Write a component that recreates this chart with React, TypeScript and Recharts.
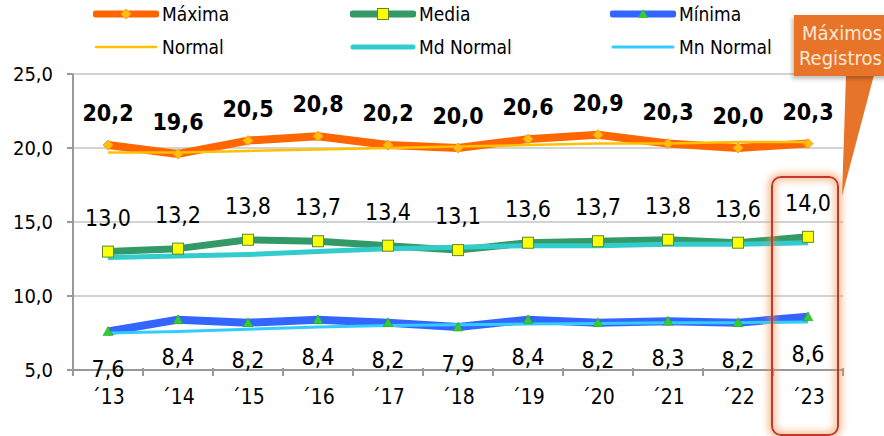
import React from 'react';
import { LineChart, Line, XAxis, YAxis, CartesianGrid, LabelList, Legend } from 'recharts';

const years = ['´13', '´14', '´15', '´16', '´17', '´18', '´19', '´20', '´21', '´22', '´23'];
const maxima = [20.2, 19.6, 20.5, 20.8, 20.2, 20.0, 20.6, 20.9, 20.3, 20.0, 20.3];
const normal = [19.7, 19.7, 19.8, 19.9, 20.0, 20.1, 20.2, 20.3, 20.3, 20.4, 20.4];
const media = [13.0, 13.2, 13.8, 13.7, 13.4, 13.1, 13.6, 13.7, 13.8, 13.6, 14.0];
const mdNormal = [12.6, 12.7, 12.8, 13.0, 13.2, 13.3, 13.4, 13.4, 13.5, 13.5, 13.6];
const minima = [7.6, 8.4, 8.2, 8.4, 8.2, 7.9, 8.4, 8.2, 8.3, 8.2, 8.6];
const mnNormal = [7.5, 7.6, 7.75, 7.9, 8.0, 8.05, 8.1, 8.15, 8.2, 8.2, 8.25];
const yTicks = [5, 10, 15, 20, 25];

const data = years.map((year, i) => ({
  year,
  maxima: maxima[i],
  normal: normal[i],
  media: media[i],
  mdNormal: mdNormal[i],
  minima: minima[i],
  mnNormal: mnNormal[i],
}));

const FONT = '"DejaVu Sans Condensed", "DejaVu Sans", sans-serif';
const fmt = (v: number) => v.toFixed(1).replace('.', ',');

const C = {
  maxima: '#FF6600',
  maxMarker: '#FFC000',
  normal: '#FFC000',
  media: '#339966',
  medMarker: '#FFFF00',
  mdNormal: '#33CCCC',
  minima: '#3366FF',
  minMarker: '#33CC33',
  mnNormal: '#33CCFF',
};

const Diamond = (props: any) => {
  const { cx, cy, index } = props;
  if (cx == null || cy == null) return <g key={index} />;
  const r = 5;
  return (
    <polygon
      key={index}
      points={`${cx},${cy - r} ${cx + r},${cy} ${cx},${cy + r} ${cx - r},${cy}`}
      fill={C.maxMarker}
      stroke="#FF9933"
      strokeWidth={1}
    />
  );
};

const Square = (props: any) => {
  const { cx, cy, index } = props;
  if (cx == null || cy == null) return <g key={index} />;
  const r = 5.5;
  return (
    <rect key={index} x={cx - r} y={cy - r} width={2 * r} height={2 * r} fill={C.medMarker} stroke="#5A8A2A" strokeWidth={1} />
  );
};

const Triangle = (props: any) => {
  const { cx, cy, index } = props;
  if (cx == null || cy == null) return <g key={index} />;
  const r = 5;
  return (
    <polygon
      key={index}
      points={`${cx},${cy - r} ${cx + r},${cy + r * 0.8} ${cx - r},${cy + r * 0.8}`}
      fill={C.minMarker}
      stroke="#2A9A2A"
      strokeWidth={0.5}
    />
  );
};

const makeLabel = (dy: number, bold: boolean) => (props: any) => {
  const { x, y, value, index } = props;
  return (
    <text
      key={index}
      x={x}
      y={y + dy}
      textAnchor="middle"
      dominantBaseline="central"
      fontFamily={FONT}
      fontSize={23}
      fontWeight={bold ? 'bold' : 'normal'}
      fill="#000"
    >
      {fmt(value)}
    </text>
  );
};

const XTick = (props: any) => {
  const { x, y, payload, index } = props;
  const half = 35;
  return (
    <g>
      {index === 0 && <line x1={x - half} x2={x - half} y1={y - 2} y2={y + 6} stroke="#999" strokeWidth={2} />}
      <line x1={x + half} x2={x + half} y1={y - 2} y2={y + 6} stroke="#999" strokeWidth={2} />
      <text x={x} y={y + 27} textAnchor="middle" dominantBaseline="central" fontFamily={FONT} fontSize={21} fill="#000">
        {payload.value}
      </text>
    </g>
  );
};

type LegendItem = { name: string; color: string; width: number; marker?: 'diamond' | 'square' | 'triangle' };
const legendRow1: LegendItem[] = [
  { name: 'Máxima', color: C.maxima, width: 7, marker: 'diamond' },
  { name: 'Media', color: C.media, width: 7, marker: 'square' },
  { name: 'Mínima', color: C.minima, width: 7, marker: 'triangle' },
];
const legendRow2: LegendItem[] = [
  { name: 'Normal', color: C.normal, width: 2.5 },
  { name: 'Md Normal', color: C.mdNormal, width: 5 },
  { name: 'Mn Normal', color: C.mnNormal, width: 3 },
];
const legendCols = [93, 350, 610];
const legendRowsY = [14, 47];

const LegendSymbol = ({ item }: { item: LegendItem }) => {
  const w = 66;
  const h = 16;
  const cx = w / 2;
  const cy = h / 2;
  return (
    <svg width={w} height={h} style={{ display: 'block' }}>
      <line x1={3} x2={w - 3} y1={cy} y2={cy} stroke={item.color} strokeWidth={item.width} strokeLinecap="round" />
      {item.marker === 'diamond' && (
        <polygon points={`${cx},${cy - 5} ${cx + 5},${cy} ${cx},${cy + 5} ${cx - 5},${cy}`} fill={C.maxMarker} stroke="#FF9933" strokeWidth={1} />
      )}
      {item.marker === 'square' && (
        <rect x={cx - 5.5} y={cy - 5.5} width={11} height={11} fill={C.medMarker} stroke="#5A8A2A" strokeWidth={1} />
      )}
      {item.marker === 'triangle' && (
        <polygon points={`${cx},${cy - 5} ${cx + 5},${cy + 4} ${cx - 5},${cy + 4}`} fill={C.minMarker} />
      )}
    </svg>
  );
};

const LegendContent = () => (
  <div style={{ position: 'relative', width: 884, height: 62 }}>
    {[legendRow1, legendRow2].map((row, r) =>
      row.map((item, c) => (
        <div
          key={item.name}
          style={{
            position: 'absolute',
            left: legendCols[c],
            top: legendRowsY[r] - 12,
            height: 24,
            display: 'flex',
            alignItems: 'center',
            gap: 3,
            fontFamily: FONT,
            fontSize: 19,
            color: '#000',
            whiteSpace: 'nowrap',
          }}
        >
          <LegendSymbol item={item} />
          <span>{item.name}</span>
        </div>
      ))
    )}
  </div>
);

export default function App() {
  return (
    <div style={{ position: 'absolute', left: 0, top: 0, width: 884, height: 436, background: '#fff', overflow: 'hidden' }}>
      <LineChart width={884} height={436} data={data} margin={{ top: 74, right: 41, bottom: 26, left: 0 }}>
        <CartesianGrid horizontal vertical={false} stroke="#c4c4c4" strokeWidth={1.5} />
        <XAxis
          dataKey="year"
          height={40}
          padding={{ left: 35, right: 35 }}
          axisLine={{ stroke: '#999', strokeWidth: 2 }}
          tickLine={false}
          tickSize={0}
          tickMargin={0}
          tick={<XTick />}
          interval={0}
        />
        <YAxis
          width={73}
          domain={[5, 25]}
          ticks={yTicks}
          tickFormatter={fmt}
          axisLine={{ stroke: '#999', strokeWidth: 2 }}
          tickLine={{ stroke: '#999', strokeWidth: 2 }}
          tickSize={6}
          tickMargin={14}
          tick={{ fontFamily: FONT, fontSize: 20, fill: '#000' }}
          allowDataOverflow
        />
        <Legend
          layout="vertical"
          align="center"
          verticalAlign="middle"
          wrapperStyle={{ top: 0, left: 0, width: 884, height: 62 }}
          content={<LegendContent />}
        />
        <Line key="l-max" dataKey="maxima" stroke={C.maxima} strokeWidth={8} strokeLinejoin="round" dot={false} activeDot={false} isAnimationActive={false} />
        <Line key="l-med" dataKey="media" stroke={C.media} strokeWidth={7} strokeLinejoin="round" dot={false} activeDot={false} isAnimationActive={false} />
        <Line key="l-min" dataKey="minima" stroke={C.minima} strokeWidth={8} strokeLinejoin="round" dot={false} activeDot={false} isAnimationActive={false} />
        <Line key="l-nor" dataKey="normal" stroke={C.normal} strokeWidth={2.5} dot={false} activeDot={false} isAnimationActive={false} />
        <Line key="l-mdn" dataKey="mdNormal" stroke={C.mdNormal} strokeWidth={5} dot={false} activeDot={false} isAnimationActive={false} />
        <Line key="l-mnn" dataKey="mnNormal" stroke={C.mnNormal} strokeWidth={3} dot={false} activeDot={false} isAnimationActive={false} />
        <Line key="d-max" dataKey="maxima" stroke="none" dot={Diamond} activeDot={false} isAnimationActive={false}>
          <LabelList dataKey="maxima" content={makeLabel(-32, true)} />
        </Line>
        <Line key="d-med" dataKey="media" stroke="none" dot={Square} activeDot={false} isAnimationActive={false}>
          <LabelList dataKey="media" content={makeLabel(-34, false)} />
        </Line>
        <Line key="d-min" dataKey="minima" stroke="none" dot={Triangle} activeDot={false} isAnimationActive={false}>
          <LabelList dataKey="minima" content={makeLabel(37, false)} />
        </Line>
      </LineChart>

      {/* Annotation: highlight of the record year and callout */}
      <div
        style={{
          position: 'absolute',
          left: 771,
          top: 176,
          width: 64,
          height: 256,
          border: '2.5px solid #C0392B',
          borderRadius: 10,
          boxShadow: '0 0 7px 3px rgba(240,140,70,0.55), inset 0 0 7px 3px rgba(240,140,70,0.5)',
          pointerEvents: 'none',
        }}
      />
      <svg width={884} height={436} style={{ position: 'absolute', left: 0, top: 0, pointerEvents: 'none' }}>
        <polygon points="846,75 874,75 842,196" fill="#E8742A" />
      </svg>
      <div
        style={{
          position: 'absolute',
          left: 794,
          top: 15,
          width: 100,
          height: 61,
          background: '#E8742A',
          color: '#F8E8D4',
          fontFamily: FONT,
          fontSize: 20,
          lineHeight: '25px',
          paddingTop: 6,
          paddingLeft: 5,
          boxSizing: 'border-box',
          boxShadow: '-2px 3px 4px rgba(0,0,0,0.25)',
        }}
      >
        <div style={{ paddingLeft: 3 }}>Máximos</div>
        <div>Registros</div>
      </div>
    </div>
  );
}
